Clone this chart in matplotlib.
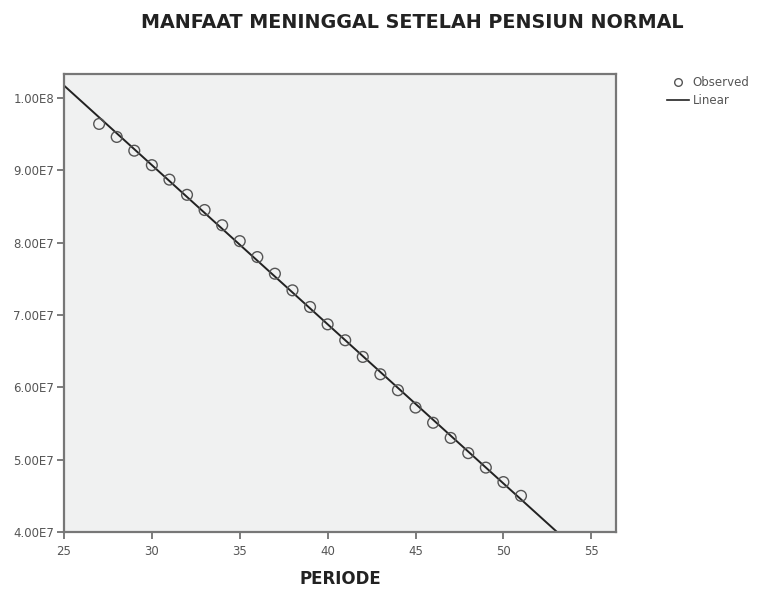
import numpy as np
import matplotlib
matplotlib.use("Agg")
import matplotlib.pyplot as plt
from matplotlib.lines import Line2D

periode = [27, 28, 29, 30, 31, 32, 33, 34, 35, 36, 37, 38, 39,
           40, 41, 42, 43, 44, 45, 46, 47, 48, 49, 50, 51]
manfaat = [9.64e7, 9.46e7, 9.27e7, 9.07e7, 8.87e7, 8.66e7, 8.45e7, 8.24e7,
           8.02e7, 7.80e7, 7.57e7, 7.34e7, 7.11e7, 6.87e7, 6.65e7, 6.42e7,
           6.18e7, 5.96e7, 5.72e7, 5.51e7, 5.30e7, 5.09e7, 4.89e7, 4.69e7,
           4.50e7]
xticks = [25, 30, 35, 40, 45, 50, 55]
yticks = [4.0e7, 5.0e7, 6.0e7, 7.0e7, 8.0e7, 9.0e7, 1.0e8]
ytick_labels = ["4.00E7", "5.00E7", "6.00E7", "7.00E7", "8.00E7", "9.00E7", "1.00E8"]

plt.rcParams['font.family'] = ['DejaVu Sans']

fig = plt.figure(figsize=(7.67, 5.91), dpi=100)
ax = fig.add_axes([0.0834, 0.0998, 0.7196, 0.775])
ax.set_facecolor('#f0f1f1')

slope, intercept = np.polyfit(periode, manfaat, 1)
xl = np.array([25, 56.4])
ax.plot(xl, slope * xl + intercept, color='#222222', lw=1.4, zorder=2)
ax.scatter(periode, manfaat, s=60, facecolors='none', edgecolors='#555555',
           linewidths=1.0, zorder=3)

ax.set_xlim(25, 56.4)
ax.set_ylim(4.0e7, 1.033e8)
ax.set_xticks(xticks)
ax.set_xticklabels([str(t) for t in xticks])
ax.set_yticks(yticks)
ax.set_yticklabels(ytick_labels)
ax.tick_params(axis='both', direction='out', length=5, width=1.2, color='#666666',
               labelsize=8.5, labelcolor='#555555', pad=2)
ax.tick_params(axis='x', pad=4)
for sp in ax.spines.values():
    sp.set_color('#777777')
    sp.set_linewidth(1.6)

ax.set_xlabel("PERIODE", fontsize=12, fontweight='bold', color='#222222', labelpad=9)
fig.text(0.537, 0.962, "MANFAAT MENINGGAL SETELAH PENSIUN NORMAL", ha='center', va='center',
         fontsize=13.8, fontweight='bold', color='#222222')

handles = [Line2D([], [], marker='o', ls='none', mfc='none', mec='#555555', ms=5.5, mew=1.0),
           Line2D([], [], color='#222222', lw=1.2)]
fig.legend(handles, ["Observed", "Linear"], loc='upper left', bbox_to_anchor=(0.869, 0.872),
           frameon=False, fontsize=8.5, handlelength=1.9, handletextpad=0.3,
           labelspacing=0.45, borderaxespad=0, borderpad=0, labelcolor='#555555')

fig.savefig("out.png", dpi=100)
